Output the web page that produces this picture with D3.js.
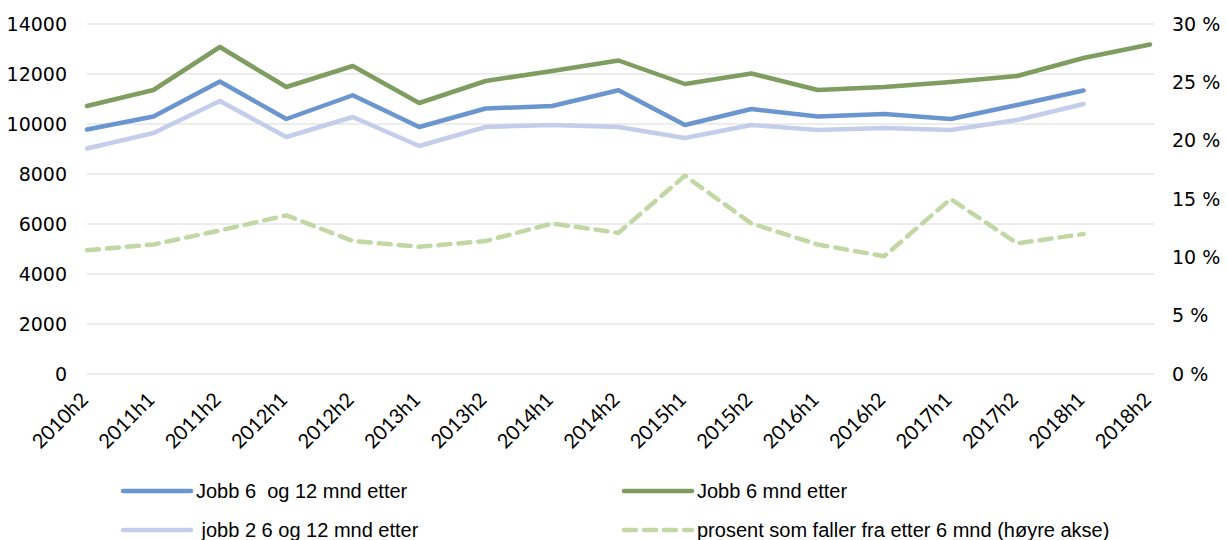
<!DOCTYPE html>
<html><head><meta charset="utf-8">
<script src="https://cdn.jsdelivr.net/npm/d3@7"></script>
<style>body{margin:0;background:#fff}</style>
</head><body>
<svg id="c" width="1227" height="540"></svg>
<script>
const categories = ["2010h2","2011h1","2011h2","2012h1","2012h2","2013h1","2013h2","2014h1","2014h2","2015h1","2015h2","2016h1","2016h2","2017h1","2017h2","2018h1","2018h2"];
const jobb6og12 = [9780,10300,11700,10200,11150,9880,10620,10720,11350,9960,10600,10300,10400,10200,10760,11340,null];
const jobb6 = [10720,11360,13080,11480,12320,10840,11720,12120,12540,11600,12020,11360,11480,11680,11920,12640,13180];
const jobb2_6og12 = [9020,9640,10920,9480,10280,9120,9880,9960,9880,9440,9960,9760,9840,9760,10160,10800,null];
const prosentFaller = [10.6,11.1,12.3,13.6,11.4,10.9,11.4,12.9,12.1,17.0,12.9,11.1,10.1,15.0,11.2,12.0,null];
const leftTicks = [0,2000,4000,6000,8000,10000,12000,14000];
const rightTicks = [0,5,10,15,20,25,30];

const svg = d3.select("#c");
const x0 = 87, x1 = 1150, yTop = 24, yBot = 374, gridRight = 1154;
const x = d3.scalePoint().domain(categories).range([x0, x1]);
const yL = d3.scaleLinear().domain([0,14000]).range([yBot, yTop]);
const yR = d3.scaleLinear().domain([0,30]).range([yBot, yTop]);

svg.append("g").selectAll("line").data(leftTicks).join("line")
  .attr("x1", x0).attr("x2", gridRight)
  .attr("y1", d=>yL(d)).attr("y2", d=>yL(d))
  .attr("stroke", "#d9d9d9").attr("stroke-width", 1);

const tickFont = "DejaVu Sans, Verdana, sans-serif";
const gl = svg.append("g").attr("transform", `translate(${x0-20},0)`)
  .call(d3.axisLeft(yL).tickValues(leftTicks).tickSize(0).tickFormat(d3.format("d")));
gl.select(".domain").remove();
gl.selectAll("text").attr("font-family", tickFont).attr("font-size", 19).attr("fill", "#000").attr("dy","0.32em").attr("x",0);

const gr = svg.append("g").attr("transform", `translate(1172,0)`)
  .call(d3.axisRight(yR).tickValues(rightTicks).tickSize(0).tickFormat(d=>d+" %"));
gr.select(".domain").remove();
gr.selectAll("text").attr("font-family", tickFont).attr("font-size", 19).attr("fill", "#000").attr("dy","0.32em").attr("x",0);

const gb = svg.append("g").attr("transform", `translate(0,${yBot})`)
  .call(d3.axisBottom(x).tickSize(0));
gb.select(".domain").remove();
gb.selectAll("text")
  .attr("font-family", "Lato, Open Sans, sans-serif")
  .attr("font-size", 20).attr("fill", "#000")
  .attr("text-anchor", "end")
  .attr("y", 0).attr("dy", "0.35em")
  .attr("transform", "translate(-3,22) rotate(-45)");

const lineL = d3.line().defined(d=>d!=null).x((d,i)=>x(categories[i])).y(d=>yL(d));
const lineR = d3.line().defined(d=>d!=null).x((d,i)=>x(categories[i])).y(d=>yR(d));

const series = [
  {data: prosentFaller, gen: lineR, color: "#c3d7a5", dash: "12 8", name: "prosent som faller fra etter 6 mnd (høyre akse)"},
  {data: jobb2_6og12, gen: lineL, color: "#c4cdea", dash: null, name: " jobb 2 6 og 12 mnd etter"},
  {data: jobb6, gen: lineL, color: "#7f9c61", dash: null, name: "Jobb 6 mnd etter"},
  {data: jobb6og12, gen: lineL, color: "#6a95cf", dash: null, name: "Jobb 6  og 12 mnd etter"},
];
svg.append("g").selectAll("path").data(series).join("path")
  .attr("d", s=>s.gen(s.data))
  .attr("fill","none").attr("stroke", s=>s.color).attr("stroke-width", 4.5)
  .attr("stroke-linejoin","round").attr("stroke-linecap","round")
  .attr("stroke-dasharray", s=>s.dash);

const legendItems = [
  {s: series[3], lx: 123, ly: 491},
  {s: series[2], lx: 624, ly: 491},
  {s: series[1], lx: 123, ly: 530},
  {s: series[0], lx: 624, ly: 530},
];
const lg = svg.append("g");
legendItems.forEach(it=>{
  lg.append("line").attr("x1", it.lx).attr("x2", it.lx+68).attr("y1", it.ly).attr("y2", it.ly)
    .attr("stroke", it.s.color).attr("stroke-width", 4.5).attr("stroke-linecap","round")
    .attr("stroke-dasharray", it.s.dash ? "12 8" : null);
  lg.append("text").attr("x", it.lx+73).attr("y", it.ly).attr("dy","0.35em")
    .attr("font-family","Liberation Sans, Arial, sans-serif").attr("font-size",20)
    .attr("xml:space","preserve").style("white-space","pre")
    .text(it.s.name);
});
</script>
</body></html>
